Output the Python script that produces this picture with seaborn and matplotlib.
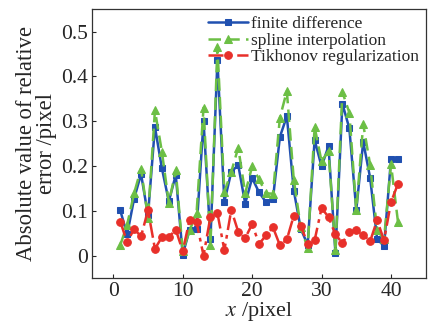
import numpy as np
import pandas as pd
import seaborn as sns
import matplotlib.pyplot as plt

# Data
pixels = list(range(1, 42))
finite_difference = [0.101, 0.047, 0.127, 0.182, 0.090, 0.287, 0.195, 0.121, 0.180, 0.002,
                     0.058, 0.060, 0.300, 0.037, 0.436, 0.120, 0.187, 0.202, 0.116, 0.173,
                     0.141, 0.119, 0.127, 0.265, 0.311, 0.145, 0.060, 0.024, 0.258, 0.199,
                     0.244, 0.006, 0.339, 0.284, 0.102, 0.254, 0.173, 0.037, 0.021, 0.215,
                     0.216]
spline_interpolation = [0.023, 0.069, 0.139, 0.194, 0.084, 0.324, 0.232, 0.118, 0.190, 0.010,
                        0.056, 0.096, 0.330, 0.024, 0.465, 0.142, 0.187, 0.241, 0.139, 0.199,
                        0.170, 0.139, 0.138, 0.308, 0.367, 0.169, 0.063, 0.017, 0.287, 0.210,
                        0.234, 0.012, 0.365, 0.319, 0.101, 0.293, 0.202, 0.056, 0.037, 0.204,
                        0.076]
tikhonov = [0.076, 0.030, 0.059, 0.043, 0.101, 0.015, 0.041, 0.041, 0.058, 0.010,
            0.080, 0.074, 0.000, 0.087, 0.095, 0.012, 0.102, 0.053, 0.039, 0.070,
            0.026, 0.045, 0.063, 0.023, 0.036, 0.089, 0.067, 0.026, 0.034, 0.106,
            0.086, 0.047, 0.028, 0.053, 0.056, 0.046, 0.032, 0.079, 0.034, 0.119,
            0.160]

sns.set_style("ticks")
plt.rcParams['font.family'] = ['Liberation Serif', 'DejaVu Serif']
plt.rcParams['mathtext.fontset'] = 'stix'

fig, ax = plt.subplots(figsize=(4.3, 3.27), dpi=100)

sns.lineplot(x=pixels, y=finite_difference, ax=ax, color='#2050b0', linestyle='-',
             marker='s', markersize=5, markeredgecolor='#2050b0', linewidth=1.8,
             label='finite difference')
sns.lineplot(x=pixels, y=spline_interpolation, ax=ax, color='#6cbf45', linestyle=(0, (5, 2.5)),
             marker='^', markersize=6, markeredgecolor='#6cbf45', linewidth=1.8,
             label='spline interpolation')
sns.lineplot(x=pixels, y=tikhonov, ax=ax, color='#e8302a', linestyle=(0, (6, 2, 1.5, 2)),
             marker='o', markersize=5.5, markeredgecolor='#e8302a', linewidth=1.8,
             label='Tikhonov regularization')

ax.set_xlim(-3, 45)
ax.set_ylim(-0.05, 0.55)
ax.set_xticks([0, 10, 20, 30, 40])
ax.set_yticks([0, 0.1, 0.2, 0.3, 0.4, 0.5])
ax.set_yticklabels(['0', '0.1', '0.2', '0.3', '0.4', '0.5'])
ax.tick_params(direction='in', labelsize=15.5, length=3, width=0.8, pad=3)
for s in ax.spines.values():
    s.set_linewidth(0.9)
    s.set_color('#333333')

ax.set_xlabel('$x$ /pixel', fontsize=16, labelpad=-1)
ax.set_ylabel('Absolute value of relative\nerror /pixel', fontsize=16.3, linespacing=0.95,
              labelpad=3, multialignment='center')

ax.legend(loc='upper right', frameon=False, fontsize=12.5, handlelength=2.3,
          handletextpad=0.15, borderaxespad=0.0, labelspacing=0.02,
          bbox_to_anchor=(1.0, 1.0))

plt.subplots_adjust(left=0.215, right=0.99, top=0.972, bottom=0.15)
plt.savefig('out.png', dpi=100)
